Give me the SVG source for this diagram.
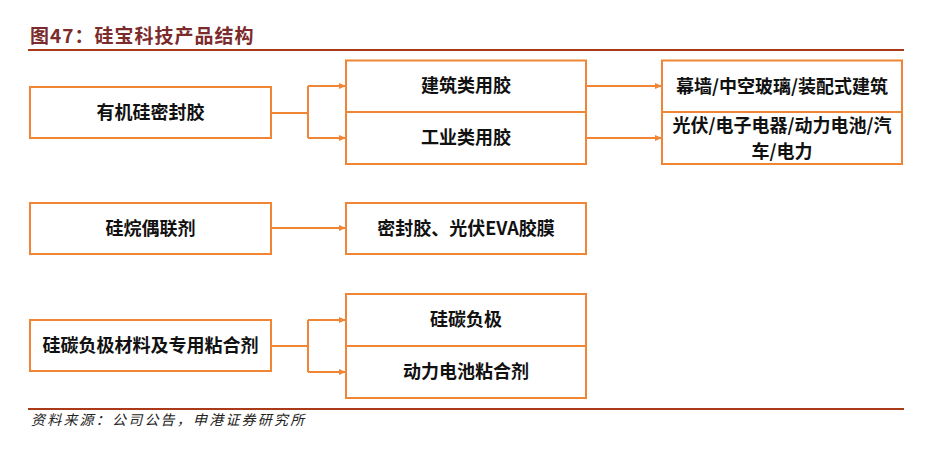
<svg xmlns="http://www.w3.org/2000/svg" width="933" height="450" viewBox="0 0 933 450">
<style>
.box{fill:#fff;stroke:#F08536;stroke-width:2}
.t{font-family:"Noto Sans CJK SC","Liberation Sans",sans-serif;font-weight:bold;font-size:18px;fill:#111;text-anchor:middle}
.c{fill:none;stroke:#F08536;stroke-width:2}
</style>
<defs>
<marker id="ah" markerWidth="7" markerHeight="6" refX="7" refY="3" orient="auto" markerUnits="userSpaceOnUse">
<path d="M0,0 L7,3 L0,6 z" fill="#F08536"/>
</marker>
</defs>
<rect width="933" height="450" fill="#fff"/>
<text x="30" y="43" font-family="'Noto Sans CJK SC','Liberation Sans',sans-serif" font-weight="bold" font-size="19" letter-spacing="1" fill="#7B2B2B">图47：硅宝科技产品结构</text>
<line x1="28" y1="50" x2="904" y2="50" stroke="#A93A1A" stroke-width="2"/>
<line x1="28" y1="409" x2="904" y2="409" stroke="#A93A1A" stroke-width="2"/>
<text x="31" y="425" font-family="'Noto Sans CJK SC','Liberation Sans',sans-serif" font-style="italic" font-size="14" letter-spacing="2.2" fill="#222">资料来源：公司公告，申港证券研究所</text>

<g id="connectors">
<polyline class="c" points="271,113 308,113"/>
<polyline class="c" points="308,86 308,138"/>
<line class="c" x1="308" y1="86" x2="346" y2="86" marker-end="url(#ah)"/>
<line class="c" x1="308" y1="138" x2="346" y2="138" marker-end="url(#ah)"/>
<line class="c" x1="586" y1="86" x2="662" y2="86" marker-end="url(#ah)"/>
<line class="c" x1="586" y1="138" x2="662" y2="138" marker-end="url(#ah)"/>
<line class="c" x1="271" y1="228" x2="346" y2="228" marker-end="url(#ah)"/>
<polyline class="c" points="271,346 308,346"/>
<polyline class="c" points="308,320 308,372"/>
<line class="c" x1="308" y1="320" x2="346" y2="320" marker-end="url(#ah)"/>
<line class="c" x1="308" y1="372" x2="346" y2="372" marker-end="url(#ah)"/>
</g>

<g id="n1"><rect class="box" x="30" y="87" width="241" height="51"/><text class="t" x="150.5" y="119">有机硅密封胶</text></g>
<g id="n2"><rect class="box" x="346" y="60.5" width="240" height="51.5"/><text class="t" x="466" y="92">建筑类用胶</text></g>
<g id="n3"><rect class="box" x="346" y="112" width="240" height="52"/><text class="t" x="466" y="144">工业类用胶</text></g>
<g id="n4"><rect class="box" x="662" y="60.5" width="240" height="51.5"/><text class="t" x="782" y="93">幕墙/中空玻璃/装配式建筑</text></g>
<g id="n5"><rect class="box" x="662" y="112" width="240" height="52"/><text class="t" x="782" y="132"><tspan x="782" y="132">光伏/电子电器/动力电池/汽</tspan><tspan x="782" y="158">车/电力</tspan></text></g>
<g id="n6"><rect class="box" x="30" y="203" width="241" height="51"/><text class="t" x="150.5" y="235">硅烷偶联剂</text></g>
<g id="n7"><rect class="box" x="346" y="203" width="240" height="51"/><text class="t" x="466" y="235">密封胶、光伏EVA胶膜</text></g>
<g id="n8"><rect class="box" x="30" y="320" width="241" height="51"/><text class="t" x="150.5" y="352">硅碳负极材料及专用粘合剂</text></g>
<g id="n9"><rect class="box" x="346" y="294" width="240" height="52"/><text class="t" x="466" y="326">硅碳负极</text></g>
<g id="n10"><rect class="box" x="346" y="346" width="240" height="52"/><text class="t" x="466" y="378">动力电池粘合剂</text></g>
</svg>
